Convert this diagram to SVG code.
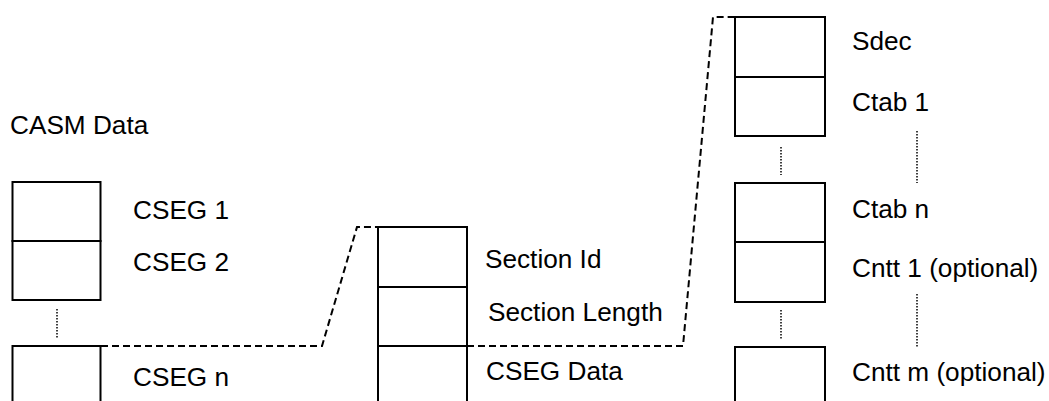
<svg xmlns="http://www.w3.org/2000/svg" width="1049" height="401" viewBox="0 0 1049 401">
<style>
.cell{fill:#fff;stroke:#000;stroke-width:2}
.lbl{font-family:"Liberation Sans",Arial,sans-serif;font-size:26.2px;fill:#000}
.dash{fill:none;stroke:#000;stroke-width:2;stroke-dasharray:7,4}
.dot{fill:none;stroke:#000;stroke-width:1.5;stroke-dasharray:1.5,1.5}
</style>
<rect width="1049" height="401" fill="#fff"/>
<g id="title"><text class="lbl" x="10" y="134">CASM Data</text></g>
<g id="connectors">
<path class="dash" d="M101,346 H322 L357,227 H378"/>
<path class="dash" d="M467,346 H683 L713,17 H735"/>
<path class="dot" d="M57,309 V338"/>
<path class="dot" d="M781,147 V175"/>
<path class="dot" d="M781,310 V339"/>
<path class="dot" d="M917,131 V183"/>
<path class="dot" d="M917,294 V348"/>
</g>
<g id="cseg1"><rect class="cell" x="12.5" y="182" width="88" height="59"/><text class="lbl" x="133" y="219">CSEG 1</text></g>
<g id="cseg2"><rect class="cell" x="12.5" y="241" width="88" height="59"/><text class="lbl" x="133" y="271">CSEG 2</text></g>
<g id="csegn"><path class="cell" d="M12.5,402 V346 H100.5 V402"/><text class="lbl" x="133" y="386">CSEG n</text></g>
<g id="section-id"><rect class="cell" x="378" y="227" width="89" height="60"/><text class="lbl" x="485" y="268">Section Id</text></g>
<g id="section-length"><rect class="cell" x="378" y="287" width="89" height="59"/><text class="lbl" x="488" y="321">Section Length</text></g>
<g id="cseg-data"><path class="cell" d="M378,402 V346 H467 V402"/><text class="lbl" x="486" y="380">CSEG Data</text></g>
<g id="sdec"><rect class="cell" x="735" y="17" width="90" height="60"/><text class="lbl" x="852" y="50">Sdec</text></g>
<g id="ctab1"><rect class="cell" x="735" y="77" width="90" height="59"/><text class="lbl" x="852" y="111">Ctab 1</text></g>
<g id="ctabn"><rect class="cell" x="735" y="183" width="90" height="59"/><text class="lbl" x="852" y="218">Ctab n</text></g>
<g id="cntt1"><rect class="cell" x="735" y="242" width="90" height="60"/><text class="lbl" x="852" y="277">Cntt 1 (optional)</text></g>
<g id="cnttm"><path class="cell" d="M735,402 V347 H825 V402"/><text class="lbl" x="852" y="381">Cntt m (optional)</text></g>
</svg>
